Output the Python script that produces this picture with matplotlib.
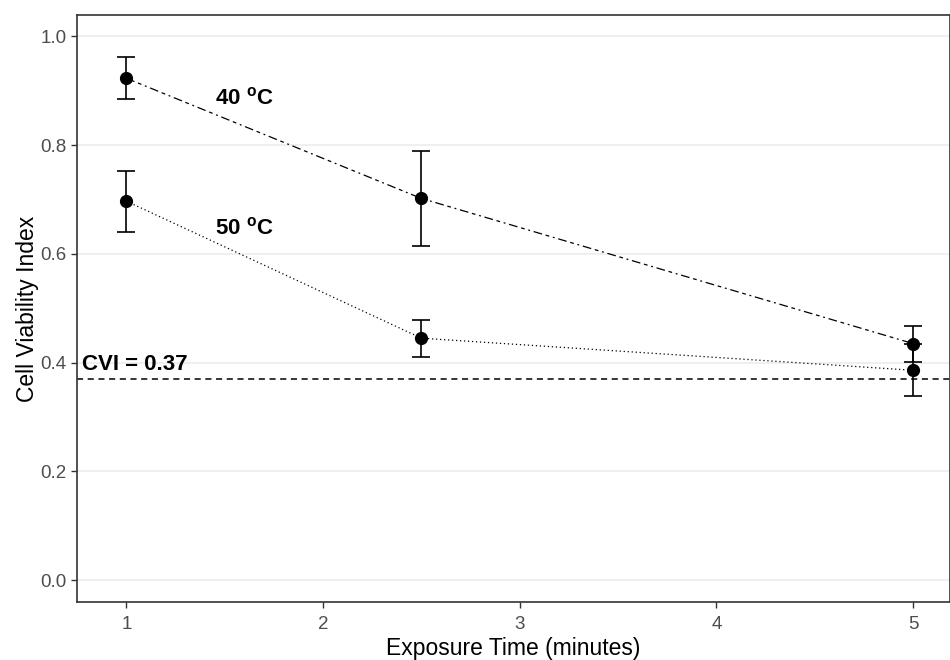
import matplotlib
matplotlib.use("Agg")
import matplotlib.pyplot as plt

plt.rcParams['font.family'] = ['Liberation Sans', 'DejaVu Sans']
plt.rcParams['mathtext.fontset'] = 'custom'
plt.rcParams['mathtext.rm'] = 'Liberation Sans:bold'
plt.rcParams['mathtext.bf'] = 'Liberation Sans:bold'

time = [1, 2.5, 5]
v40 = [0.923, 0.702, 0.435]
e40 = [0.039, 0.088, 0.033]
v50 = [0.697, 0.445, 0.386]
e50 = [0.056, 0.034, 0.048]
cvi = 0.37
labels = [r"40 $^{\mathbf{o}}$C", r"50 $^{\mathbf{o}}$C"]
label_pos = [(1.6, 0.886), (1.6, 0.647)]
yticks = [0.0, 0.2, 0.4, 0.6, 0.8, 1.0]
xticks = [1, 2, 3, 4, 5]

fig = plt.figure(figsize=(9.5, 6.6), dpi=100)
ax = fig.add_axes([0.081, 0.088, 0.919, 0.889])

for y in yticks:
    ax.axhline(y, color='#EBEBEB', lw=1.1, zorder=0)

ax.axhline(cvi, color='black', lw=1.1, ls=(0, (4, 3)), zorder=1)

ax.plot(time, v40, color='black', lw=0.9, ls=(0, (7, 3, 3, 3, 1.5, 3)), zorder=2)
ax.plot(time, v50, color='black', lw=0.9, ls=(0, (1, 2.2)), zorder=2)
for v, e in [(v40, e40), (v50, e50)]:
    ax.errorbar(time, v, yerr=e, fmt='o', color='black', ms=8.5,
                capsize=6.5, elinewidth=1.2, capthick=1.2, zorder=3)

for lab, (lx, ly) in zip(labels, label_pos):
    ax.text(lx, ly, lab, fontsize=16, fontweight='bold', ha='center', va='center')

ax.text(0.775, 0.397, "CVI = 0.37", fontsize=16, fontweight='bold', ha='left', va='center')

ax.set_xlim(0.749, 5.187)
ax.set_ylim(-0.04, 1.039)
ax.set_xticks(xticks)
ax.set_xticklabels([str(t) for t in xticks])
ax.set_yticks(yticks)
ax.set_yticklabels([f"{t:.1f}" for t in yticks])
ax.tick_params(axis='both', colors='#333333', labelcolor='#4D4D4D', labelsize=13.5, length=4, width=1)
ax.tick_params(axis='x', pad=6)
for s in ax.spines.values():
    s.set_color('#333333')
    s.set_linewidth(1.2)

ax.set_xlabel("Exposure Time (minutes)", fontsize=16.5, color='black', labelpad=3)
ax.set_ylabel("Cell Viability Index", fontsize=16.5, color='black', labelpad=1)

fig.savefig("out.png", dpi=100)
